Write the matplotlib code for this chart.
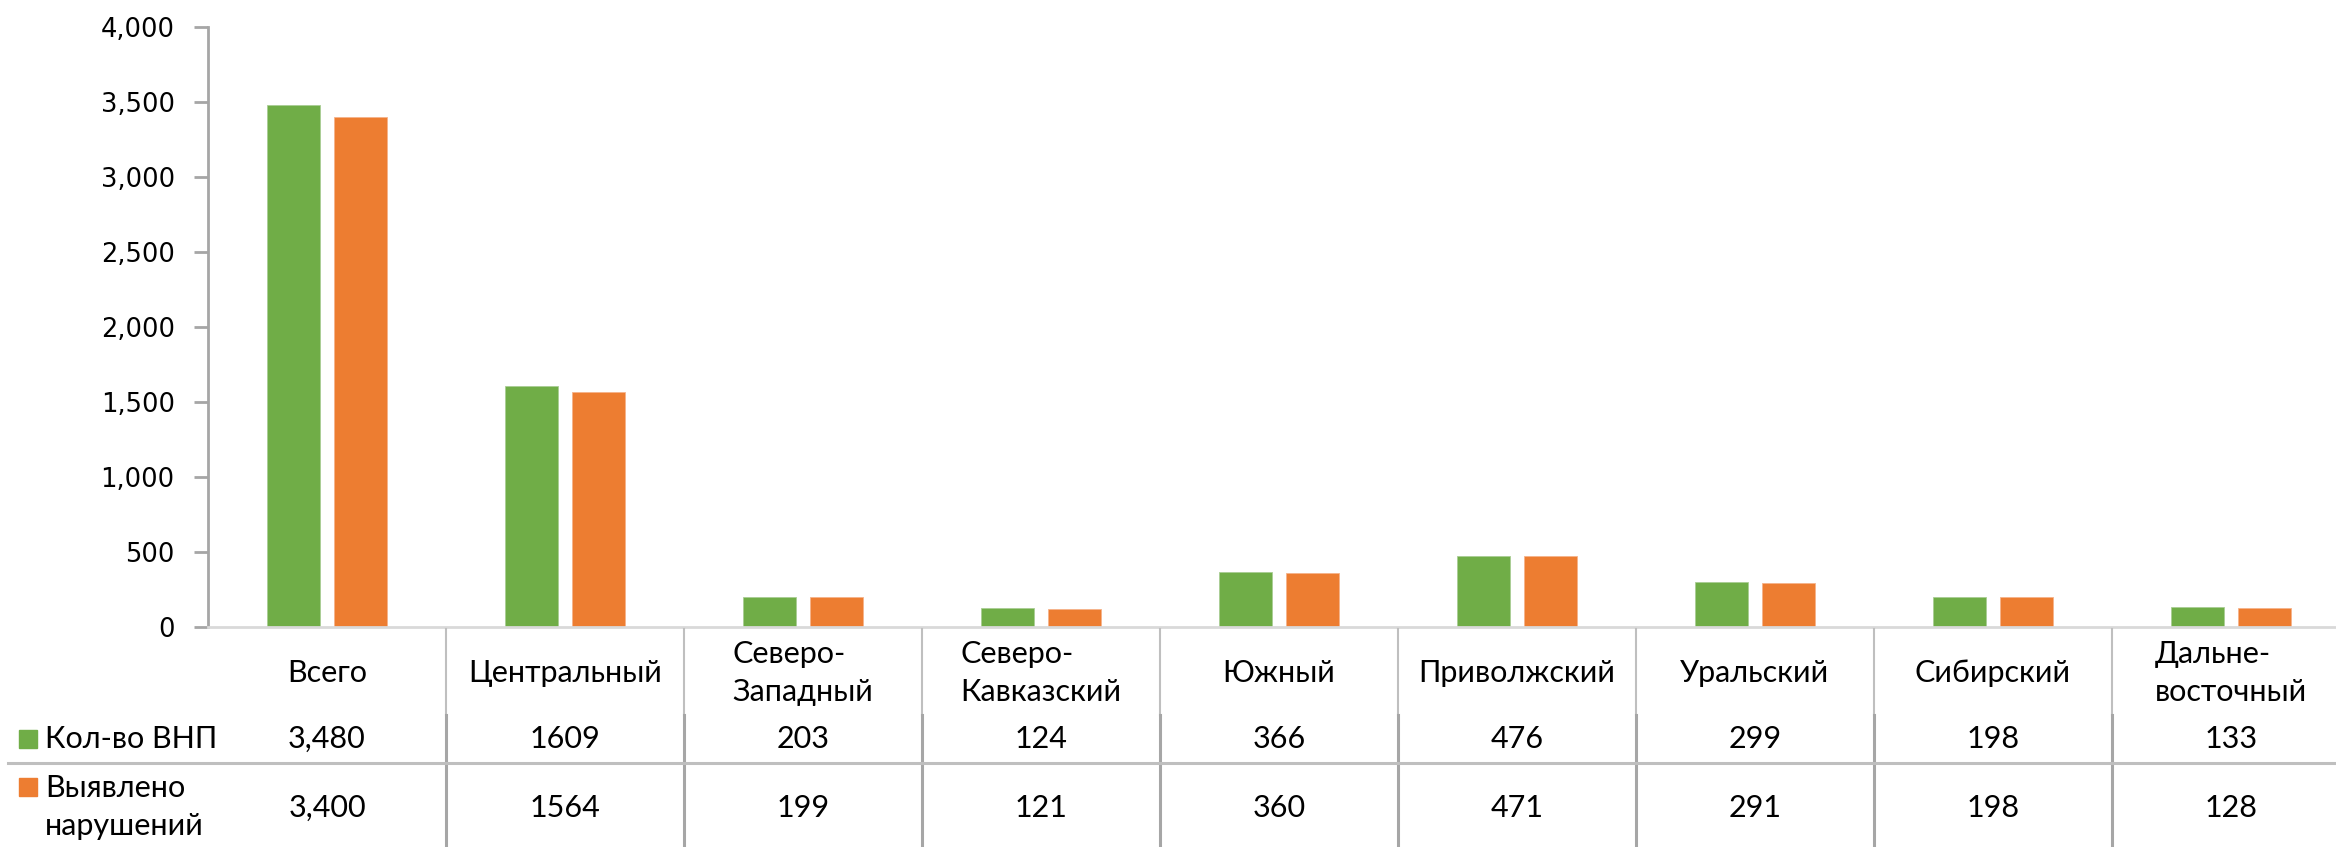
import matplotlib
matplotlib.use("Agg")
import matplotlib.pyplot as plt
from matplotlib.patches import Rectangle
from matplotlib.lines import Line2D
from matplotlib.transforms import blended_transform_factory
from matplotlib.ticker import FuncFormatter

# ---- data ----
categories = ["Всего", "Центральный", "Северо-\nЗападный", "Северо-\nКавказский",
              "Южный", "Приволжский", "Уральский", "Сибирский", "Дальне-\nвосточный"]
series_names = ["Кол-во ВНП", "Выявлено\nнарушений"]
vnp = [3480, 1609, 203, 124, 366, 476, 299, 198, 133]
violations = [3400, 1564, 199, 121, 360, 471, 291, 198, 128]
yticks = [0, 500, 1000, 1500, 2000, 2500, 3000, 3500, 4000]

# ---- style ----
W, H = 2336, 847
GREEN = "#70AD47"
ORANGE = "#ED7D31"
TABLE_FONT = ["Lato", "DejaVu Sans"]
TFS = 22

fig = plt.figure(figsize=(W / 100, H / 100), dpi=100)
ax_left, ax_zero, ax_top = 208, 627, 27
cat_w = 238
ax = fig.add_axes([ax_left / W, 1 - ax_zero / H, 9 * cat_w / W, (ax_zero - ax_top) / H])

x = list(range(len(categories)))
bw = 0.223
off = 0.141
ax.bar([i - off for i in x], vnp, width=bw, color=GREEN, edgecolor="#A9CD94", linewidth=0.6)
ax.bar([i + off for i in x], violations, width=bw, color=ORANGE, edgecolor="#F5B38A", linewidth=0.6)

ax.set_xlim(-0.5, len(categories) - 0.5)
ax.set_ylim(0, 4000)
ax.set_yticks(yticks)
ax.yaxis.set_major_formatter(FuncFormatter(lambda v, p: f"{int(v):,}"))
ax.set_xticks([])
for s in ["top", "right"]:
    ax.spines[s].set_visible(False)
ax.spines["left"].set_color("#A6A6A6")
ax.spines["left"].set_linewidth(2)
ax.spines["bottom"].set_color("#D9D9D9")
ax.spines["bottom"].set_linewidth(2)
ax.tick_params(axis="y", direction="out", length=10, width=2, color="#A6A6A6",
               labelsize=18.5, pad=14, labelcolor="black")
for lab in ax.get_yticklabels():
    lab.set_family("DejaVu Sans")

# ---- data table ----
tr = blended_transform_factory(ax.transData, fig.transFigure)
def fy(py):
    return 1 - py / H

# vertical separators
for k in range(len(categories) - 1):
    xv = k + 0.5
    fig.add_artist(Line2D([xv, xv], [fy(629), fy(715)], transform=tr, color="#BFBFBF",
                          linewidth=1.5, clip_on=False))
    fig.add_artist(Line2D([xv, xv], [fy(715), fy(847)], transform=tr, color="#A6A6A6",
                          linewidth=2.2, clip_on=False))
# horizontal separator
fig.add_artist(Line2D([8 / W, 1], [fy(763), fy(763)], transform=fig.transFigure,
                      color="#BFBFBF", linewidth=2.2))

# category labels
for i, c in enumerate(categories):
    fig.text(i, fy(673), c, transform=tr, ha="center", va="center", fontsize=TFS,
             family=TABLE_FONT, linespacing=1.4, multialignment="left")

def fmt(i, v):
    return f"{v:,}" if i == 0 else str(v)

for i, v in enumerate(vnp):
    fig.text(i, fy(739), fmt(i, v), transform=tr, ha="center", va="center",
             fontsize=TFS, family=TABLE_FONT)
for i, v in enumerate(violations):
    fig.text(i, fy(808), fmt(i, v), transform=tr, ha="center", va="center",
             fontsize=TFS, family=TABLE_FONT)

# legend keys in table
fig.add_artist(Rectangle((19 / W, fy(748)), 18 / W, 18 / H, transform=fig.transFigure,
                         color=GREEN))
fig.add_artist(Rectangle((19 / W, fy(796)), 18 / W, 18 / H, transform=fig.transFigure,
                         color=ORANGE))
fig.text(45 / W, fy(739), series_names[0], ha="left", va="center", fontsize=TFS,
         family=TABLE_FONT)
fig.text(45 / W, fy(807), series_names[1], ha="left", va="center", fontsize=TFS,
         family=TABLE_FONT, linespacing=1.4)

fig.savefig("out.png", dpi=100)
